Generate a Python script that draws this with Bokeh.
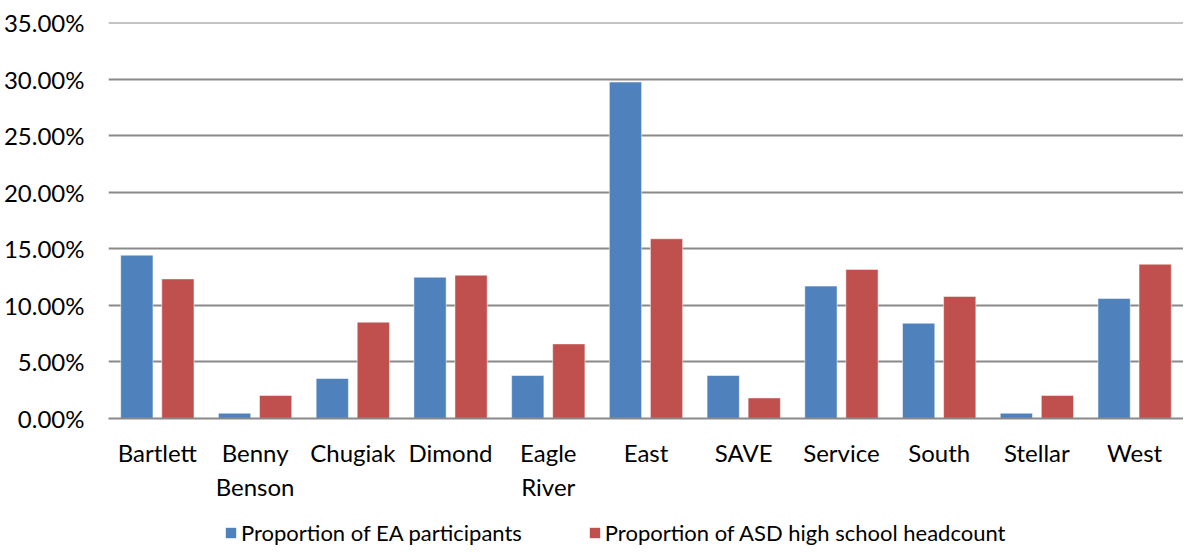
from bokeh.plotting import figure
from bokeh.layouts import column
from bokeh.models import (Range1d, FactorRange, NumeralTickFormatter, FixedTicker,
                          Legend, LegendItem, ColumnDataSource)
from bokeh.transform import dodge
from bokeh.embed import file_html
from bokeh.resources import INLINE

schools = ["Bartlett", "Benny\nBenson", "Chugiak", "Dimond", "Eagle\nRiver", "East",
           "SAVE", "Service", "South", "Stellar", "West"]
ea_participants = [0.1445, 0.0047, 0.0354, 0.1250, 0.0380, 0.2976, 0.0380,
                   0.1171, 0.0843, 0.0047, 0.1062]
asd_headcount = [0.1235, 0.0204, 0.0852, 0.1268, 0.0660, 0.1590, 0.0182,
                 0.1319, 0.1080, 0.0204, 0.1365]
y_ticks = [0.0, 0.05, 0.10, 0.15, 0.20, 0.25, 0.30, 0.35]
series_names = ["Proportion of EA participants", "Proportion of ASD high school headcount"]

FONT = "Lato"
BLUE = "#4F81BD"
RED = "#C0504D"
GRID = "#898989"

src = ColumnDataSource(dict(school=schools, ea=ea_participants, asd=asd_headcount))

p = figure(width=1183, height=508, output_backend="svg", toolbar_location=None,
           x_range=FactorRange(*schools, range_padding=0),
           y_range=Range1d(0, 0.3503),
           min_border_left=102, min_border_right=0, min_border_top=22,
           min_border_bottom=90)
p.outline_line_color = None

p.vbar(x=dodge("school", -0.21, range=p.x_range), top="ea", width=0.33, source=src,
       fill_color=BLUE, line_color="white", line_alpha=0.5, line_width=1)
p.vbar(x=dodge("school", 0.21, range=p.x_range), top="asd", width=0.33, source=src,
       fill_color=RED, line_color="white", line_alpha=0.5, line_width=1)

p.xgrid.grid_line_color = None
p.ygrid.ticker = FixedTicker(ticks=y_ticks)
p.ygrid.grid_line_color = GRID
p.ygrid.grid_line_width = 2
p.ygrid.level = "underlay"

p.yaxis.ticker = FixedTicker(ticks=y_ticks)
p.yaxis.formatter = NumeralTickFormatter(format="0.00%")
p.yaxis.axis_line_color = None
p.yaxis.major_tick_line_color = None
p.yaxis.minor_tick_line_color = None
p.yaxis.major_label_standoff = 18
p.yaxis.major_label_text_font = FONT
p.yaxis.major_label_text_font_size = "24px"
p.yaxis.major_label_text_color = "#000000"

p.xaxis.axis_line_color = GRID
p.xaxis.axis_line_width = 2
p.xaxis.major_tick_line_color = None
p.xaxis.minor_tick_line_color = None
p.xaxis.major_label_standoff = 13
p.xaxis.major_label_text_font = FONT
p.xaxis.major_label_text_font_size = "24px"
p.xaxis.major_label_text_color = "#000000"

# legend strip (its own figure so the legend is not clipped by the chart frame)
lg = figure(width=1183, height=38, output_backend="svg", toolbar_location=None,
            x_axis_type=None, y_axis_type=None,
            x_range=Range1d(0, 1), y_range=Range1d(0, 1),
            min_border_left=0, min_border_right=0, min_border_top=0, min_border_bottom=0)
lg.outline_line_color = None
lg.xgrid.grid_line_color = None
lg.ygrid.grid_line_color = None
offscreen = ColumnDataSource(dict(x=[-5.0], top=[-5.0]))
k1 = lg.vbar(x="x", top="top", width=0.1, source=offscreen, fill_color=BLUE, line_color=None)
k2 = lg.vbar(x="x", top="top", width=0.1, source=offscreen, fill_color=RED, line_color=None)

legend = Legend(items=[LegendItem(label=series_names[0], renderers=[k1]),
                       LegendItem(label=series_names[1], renderers=[k2])],
                orientation="horizontal", location=(116, 0),
                border_line_color=None, background_fill_alpha=0,
                padding=0, margin=0, spacing=66, label_standoff=4,
                glyph_width=13, glyph_height=13,
                label_text_font=FONT, label_text_font_size="22px",
                label_text_color="#000000")
lg.add_layout(legend, "center")

layout = column(p, lg, spacing=0)
open("out.html", "w").write(file_html(layout, INLINE))
